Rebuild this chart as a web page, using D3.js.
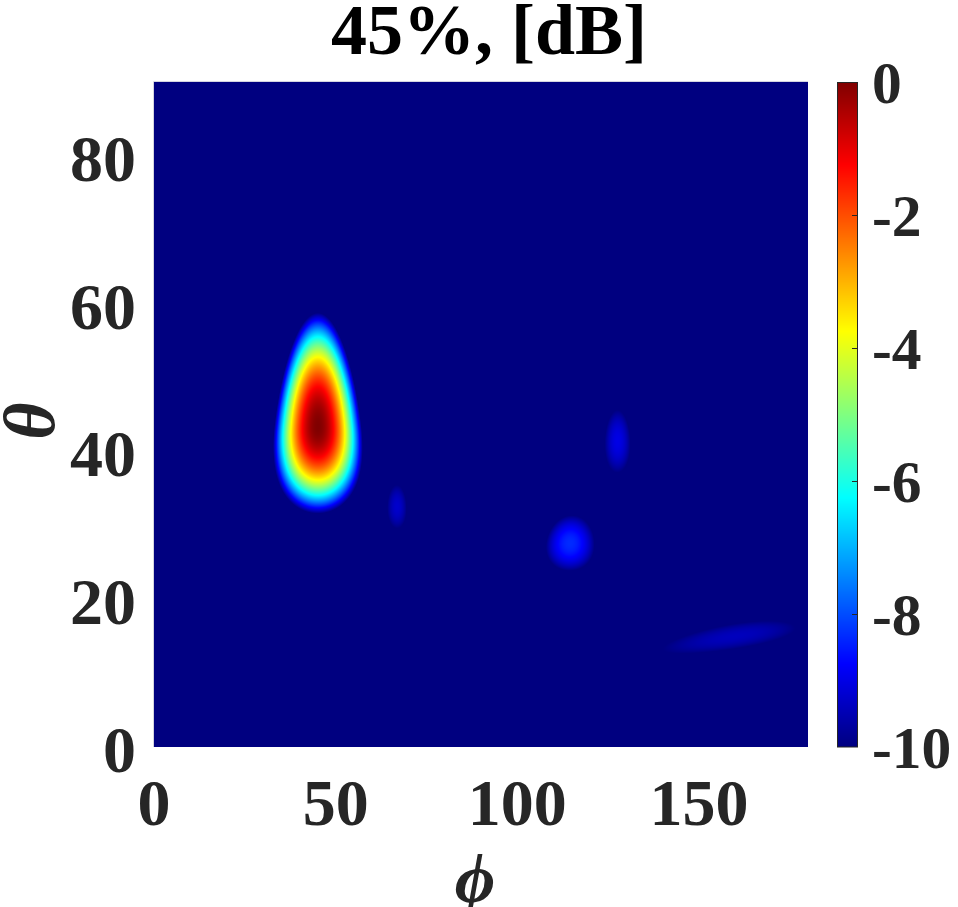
<!DOCTYPE html>
<html>
<head>
<meta charset="utf-8">
<script src="https://cdn.jsdelivr.net/npm/d3@7"></script>
<style>
  html, body { margin: 0; padding: 0; background: #fff; }
  svg { display: block; }
  text { font-family: "Liberation Serif", "Times New Roman", serif; font-weight: bold; }
</style>
</head>
<body>
<svg id="chart" width="958" height="907"></svg>
<script>
// ---- data ----
const titleText = "45%, [dB]";
const xLabel = "\u03d5";   // phi
const yLabel = "\u03b8";   // theta
const xTicks = [0, 50, 100, 150];
const yTicks = [0, 20, 40, 60, 80];
const cTicks = [0, -2, -4, -6, -8, -10];
const phiDomain = [0, 180];
const thetaDomain = [0, 90];
const dbDomain = [-10, 0];

// lobes of the pattern (angles in degrees, levels in dB)
const lobePhi        = [45.1, 67.0, 114.3, 127.6, 160.0];
const lobeTheta      = [43.3, 32.5, 27.5, 41.4, 15.0];
const lobePeak       = [0.0, -9.3, -8.4, -9.0, -9.4];
const lobeWidthPhi   = [5.6, 4.4, 7.4, 5.2, 34.0];
const lobeWidthUp    = [7.2, 5.0, 4.2, 6.2, 3.2];
const lobeWidthDown  = [5.45, 5.0, 4.2, 6.2, 3.2];
const lobeTilt       = [0, 0, 0, 0, 4.4];

// ---- layout ----
const plot = { left: 154, right: 808, top: 82, bottom: 747 };
const cbar = { left: 837.5, right: 857.5 };
const svg = d3.select("#chart");

const x = d3.scaleLinear().domain(phiDomain).range([plot.left, plot.right]);
const y = d3.scaleLinear().domain(thetaDomain).range([plot.bottom, plot.top]);
const yc = d3.scaleLinear().domain(dbDomain).range([plot.bottom, plot.top]);

function jet(t) {
  const c = v => Math.max(0, Math.min(1, v));
  const r = c(1.5 - Math.abs(4 * t - 3));
  const g = c(1.5 - Math.abs(4 * t - 2));
  const b = c(1.5 - Math.abs(4 * t - 1));
  return [Math.round(r * 255), Math.round(g * 255), Math.round(b * 255)];
}
const color = d3.scaleSequential(jet).domain(dbDomain);

function fieldDb(phi, theta) {
  let p = 0;
  const st = Math.max(Math.sin(theta * Math.PI / 180), 0.02);
  for (let k = 0; k < lobePhi.length; k++) {
    const t = lobeTilt[k] * Math.PI / 180;
    const dp = phi - lobePhi[k], dt = theta - lobeTheta[k];
    const a = dp * Math.cos(t) + dt * Math.sin(t);
    const b = -dp * Math.sin(t) + dt * Math.cos(t);
    const sphi = lobeWidthPhi[k] * Math.sin(lobeTheta[k] * Math.PI / 180) / st;
    const u = a / sphi;
    const v = b / (b > 0 ? lobeWidthUp[k] : lobeWidthDown[k]);
    p += Math.pow(10, lobePeak[k] / 10) * Math.exp(-0.5 * (u * u + v * v));
  }
  const db = 10 * Math.log10(Math.max(p, 1e-12));
  return Math.max(dbDomain[0], Math.min(dbDomain[1], db));
}

// ---- heatmap image ----
const W = Math.round(plot.right - plot.left), H = Math.round(plot.bottom - plot.top);
const cv = document.createElement("canvas");
cv.width = W; cv.height = H;
const ctx = cv.getContext("2d");
const img = ctx.createImageData(W, H);
for (let j = 0; j < H; j++) {
  const theta = y.invert(plot.top + j + 0.5);
  for (let i = 0; i < W; i++) {
    const phi = x.invert(plot.left + i + 0.5);
    const rgb = color(fieldDb(phi, theta));
    const o = (j * W + i) * 4;
    img.data[o] = rgb[0]; img.data[o + 1] = rgb[1]; img.data[o + 2] = rgb[2]; img.data[o + 3] = 255;
  }
}
ctx.putImageData(img, 0, 0);
svg.append("image")
  .attr("x", plot.left).attr("y", plot.top)
  .attr("width", W).attr("height", H)
  .attr("preserveAspectRatio", "none")
  .attr("href", cv.toDataURL());

// faint axes edges
svg.append("line").attr("x1", plot.left - 0.5).attr("x2", plot.right).attr("y1", plot.top - 0.5).attr("y2", plot.top - 0.5)
  .attr("stroke", "#d4d4e0").attr("stroke-width", 1);
svg.append("line").attr("x1", plot.left - 0.5).attr("x2", plot.left - 0.5).attr("y1", plot.top - 0.5).attr("y2", plot.bottom)
  .attr("stroke", "#d4d4e0").attr("stroke-width", 1);

// ---- colorbar ----
const CH = H;
const cb = document.createElement("canvas");
cb.width = 1; cb.height = CH;
const cctx = cb.getContext("2d");
const cimg = cctx.createImageData(1, CH);
for (let j = 0; j < CH; j++) {
  const rgb = color(yc.invert(plot.top + j + 0.5));
  cimg.data[j * 4] = rgb[0]; cimg.data[j * 4 + 1] = rgb[1]; cimg.data[j * 4 + 2] = rgb[2]; cimg.data[j * 4 + 3] = 255;
}
cctx.putImageData(cimg, 0, 0);
svg.append("image")
  .attr("x", cbar.left).attr("y", plot.top)
  .attr("width", cbar.right - cbar.left).attr("height", CH)
  .attr("preserveAspectRatio", "none")
  .attr("href", cb.toDataURL());
svg.append("rect")
  .attr("x", cbar.left).attr("y", plot.top + 0.5)
  .attr("width", cbar.right - cbar.left).attr("height", CH - 0.5)
  .attr("fill", "none").attr("stroke", "#262626").attr("stroke-width", 1);
svg.append("g").selectAll("line").data(cTicks.filter(d => d !== 0 && d !== -10)).join("line")
  .attr("x1", cbar.right - 5.5).attr("x2", cbar.right)
  .attr("y1", d => Math.round(yc(d)) + 0.5).attr("y2", d => Math.round(yc(d)) + 0.5)
  .attr("stroke", "#262626").attr("stroke-width", 1);
svg.append("g").selectAll("text").data(cTicks).join("text")
  .attr("x", 872).attr("y", d => yc(d) + 21)
  .attr("font-size", 59.5).attr("fill", "#262626")
  .text(d => d);

// ---- axis tick labels ----
svg.append("g").selectAll("text").data(xTicks).join("text")
  .attr("x", d => x(d)).attr("y", 825)
  .attr("text-anchor", "middle")
  .attr("font-size", 66).attr("fill", "#262626")
  .text(d => d);
svg.append("g").selectAll("text").data(yTicks).join("text")
  .attr("x", 136).attr("y", d => y(d) + 25)
  .attr("text-anchor", "end")
  .attr("font-size", 66).attr("fill", "#262626")
  .text(d => d);

// ---- axis labels ----
svg.append("text")
  .attr("x", 475).attr("y", 902)
  .attr("text-anchor", "middle")
  .attr("font-size", 70).attr("font-style", "italic").attr("font-weight", "normal")
  .attr("fill", "#262626")
  .text(xLabel);
svg.append("text")
  .attr("transform", "translate(54,421) rotate(-90)")
  .attr("text-anchor", "middle")
  .attr("font-size", 72).attr("font-style", "italic").attr("font-weight", "normal")
  .attr("fill", "#262626")
  .text(yLabel);

// ---- title ----
svg.append("text")
  .attr("x", 489).attr("y", 54)
  .attr("text-anchor", "middle")
  .attr("font-size", 72).attr("fill", "#000")
  .text(titleText);
</script>
</body>
</html>
